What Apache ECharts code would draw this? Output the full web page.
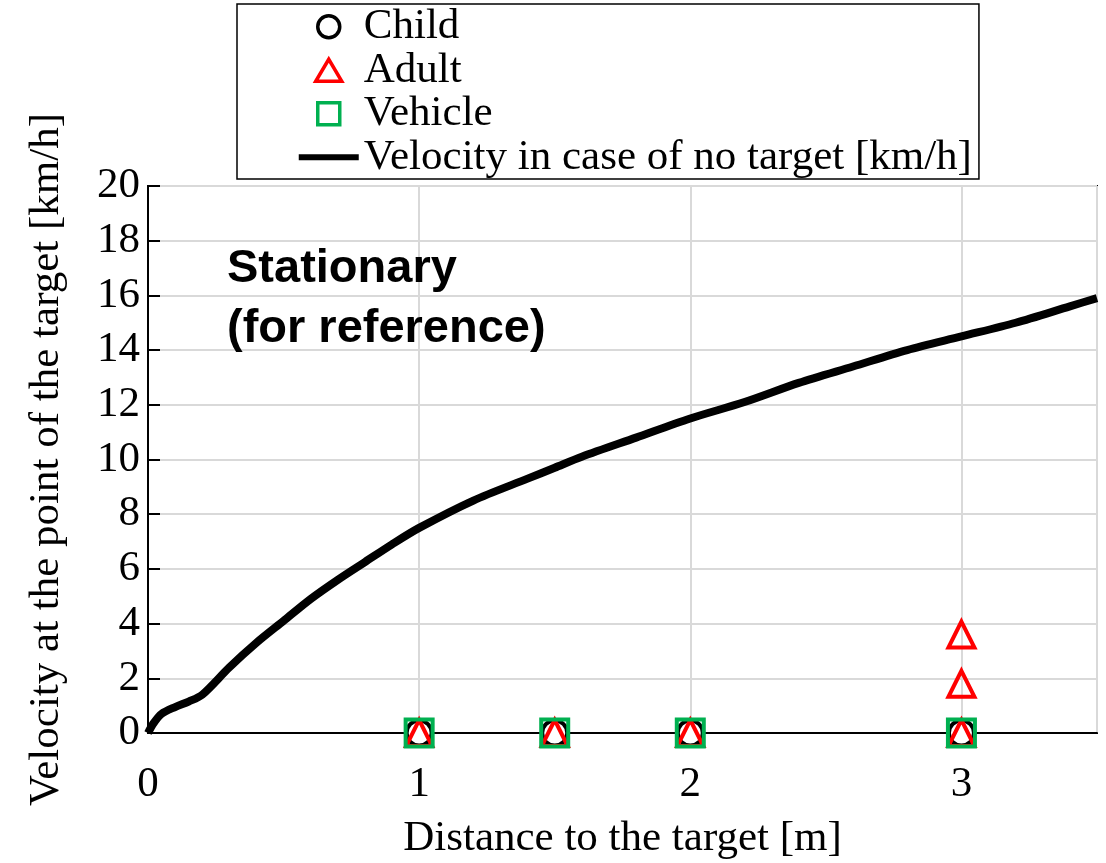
<!DOCTYPE html>
<html>
<head>
<meta charset="utf-8">
<script src="https://cdn.jsdelivr.net/npm/echarts@6/dist/echarts.min.js"></script>
<style>
html,body{margin:0;padding:0;background:#fff;}
#chart{width:1106px;height:863px;}
</style>
</head>
<body>
<div id="chart"></div>
<script>
// Data
const seriesNames = ['Child', 'Adult', 'Vehicle', 'Velocity in case of no target [km/h]'];
const childPoints = [[1, 0], [1.5, 0], [2, 0], [3, 0]];
const adultPoints = [[1, 0], [1.5, 0], [2, 0], [3, 0], [3, 1.8], [3, 3.6]];
const vehiclePoints = [[1, 0], [1.5, 0], [2, 0], [3, 0]];
const noTargetX = [0, 0.02, 0.05, 0.1, 0.15, 0.2, 0.3, 0.4, 0.5, 0.6, 0.7, 0.8, 0.9, 1.0, 1.2, 1.4, 1.5, 1.6, 1.8, 2.0, 2.2, 2.4, 2.6, 2.8, 3.0, 3.2, 3.4, 3.5];
const noTargetV = [0, 0.35, 0.7, 0.95, 1.15, 1.4, 2.4, 3.3, 4.1, 4.9, 5.6, 6.25, 6.9, 7.5, 8.5, 9.3, 9.7, 10.1, 10.8, 11.5, 12.1, 12.8, 13.4, 14.0, 14.5, 15.0, 15.6, 15.9];
const xAxisTitle = 'Distance to the target [m]';
const yAxisTitle = 'Velocity at the point of the target [km/h]';
const annotation = 'Stationary\n(for reference)';

const serif = "'Liberation Serif', 'Times New Roman', serif";
const chart = echarts.init(document.getElementById('chart'), null, {renderer: 'canvas'});
// legend icon shapes (bounding box 60x28 so nothing is stretched)
const lineIcon = 'path://M0,0 M0,11 L60,11 L60,17 L0,17 Z M60,28';
const triIcon = 'path://M0,0 M17,25 L30,3 L43,25 Z M60,28';
const rectIcon = 'path://M0,0 M19,3 L41,3 L41,25 L19,25 Z M60,28';
const circIcon = 'path://M0,0 M41,14 A11,11 0 1 1 19,14 A11,11 0 1 1 41,14 Z M60,28';
const option = {
  animation: false,
  backgroundColor: '#fff',
  title: {
    text: annotation,
    left: 222, top: 234,
    textStyle: {fontFamily: "'Liberation Sans', Arial, sans-serif", fontWeight: 'bold', fontSize: 47, lineHeight: 60, color: '#000'}
  },
  legend: {
    orient: 'vertical',
    left: 237, top: 4,
    padding: [1, 7, 0, 60],
    itemGap: 0,
    itemWidth: 60,
    itemHeight: 28,
    borderColor: '#000', borderWidth: 1.5,
    textStyle: {fontFamily: serif, fontSize: 43, lineHeight: 43.5, color: '#000'},
    data: [
      {name: seriesNames[0], icon: circIcon, itemStyle: {borderWidth: 3.5}},
      {name: seriesNames[1], icon: triIcon, itemStyle: {borderWidth: 3.5}},
      {name: seriesNames[2], icon: rectIcon, itemStyle: {borderWidth: 3.5}},
      {name: seriesNames[3], icon: lineIcon, itemStyle: {color: '#000', borderWidth: 0}}
    ]
  },
  grid: {left: 148, right: 9, top: 186, bottom: 130, show: true, borderColor: '#000', borderWidth: 2,
    containLabel: false, outerBoundsMode: 'none'},
  xAxis: {
    type: 'value', min: 0, max: 3.5, interval: 1,
    name: xAxisTitle, nameLocation: 'middle', nameGap: 84,
    nameTextStyle: {fontFamily: serif, fontSize: 43, color: '#000'},
    axisLine: {show: true, lineStyle: {color: '#000', width: 2}},
    axisTick: {show: false},
    axisLabel: {fontFamily: serif, fontSize: 43, color: '#000', margin: 30,
      formatter: v => (Number.isInteger(v) ? String(v) : '')},
    splitLine: {show: true, lineStyle: {color: '#d9d9d9', width: 2}}
  },
  yAxis: {
    type: 'value', min: 0, max: 20, interval: 2,
    name: yAxisTitle, nameLocation: 'middle', nameGap: 80,
    nameTextStyle: {fontFamily: serif, fontSize: 43, color: '#000'},
    axisLine: {show: true, lineStyle: {color: '#000', width: 2}},
    axisTick: {show: true, inside: true, length: 12, lineStyle: {color: '#000', width: 2}},
    axisLabel: {fontFamily: serif, fontSize: 43, color: '#000', margin: 8},
    splitLine: {show: true, lineStyle: {color: '#d9d9d9', width: 2}}
  },
  series: [
    {
      name: seriesNames[3], type: 'line', data: noTargetX.map((x, i) => [x, noTargetV[i]]),
      showSymbol: false, symbol: 'none', smooth: 0.3,
      lineStyle: {color: '#000', width: 8}, itemStyle: {color: '#000'}, z: 1
    },
    {
      name: seriesNames[0], type: 'scatter', data: childPoints, symbol: 'circle', symbolSize: 25,
      itemStyle: {color: '#fff', borderColor: '#000', borderWidth: 4, opacity: 1}, z: 2
    },
    {
      name: seriesNames[1], type: 'scatter', data: adultPoints, symbol: 'triangle', symbolSize: 26,
      itemStyle: {color: 'rgba(0,0,0,0)', borderColor: '#ff0000', borderWidth: 4, opacity: 1}, z: 3
    },
    {
      name: seriesNames[2], type: 'scatter', data: vehiclePoints, symbol: 'rect', symbolSize: 27,
      itemStyle: {color: 'rgba(0,0,0,0)', borderColor: '#00b050', borderWidth: 4, opacity: 1}, z: 4
    }
  ]
};
chart.setOption(option);
</script>
</body>
</html>
